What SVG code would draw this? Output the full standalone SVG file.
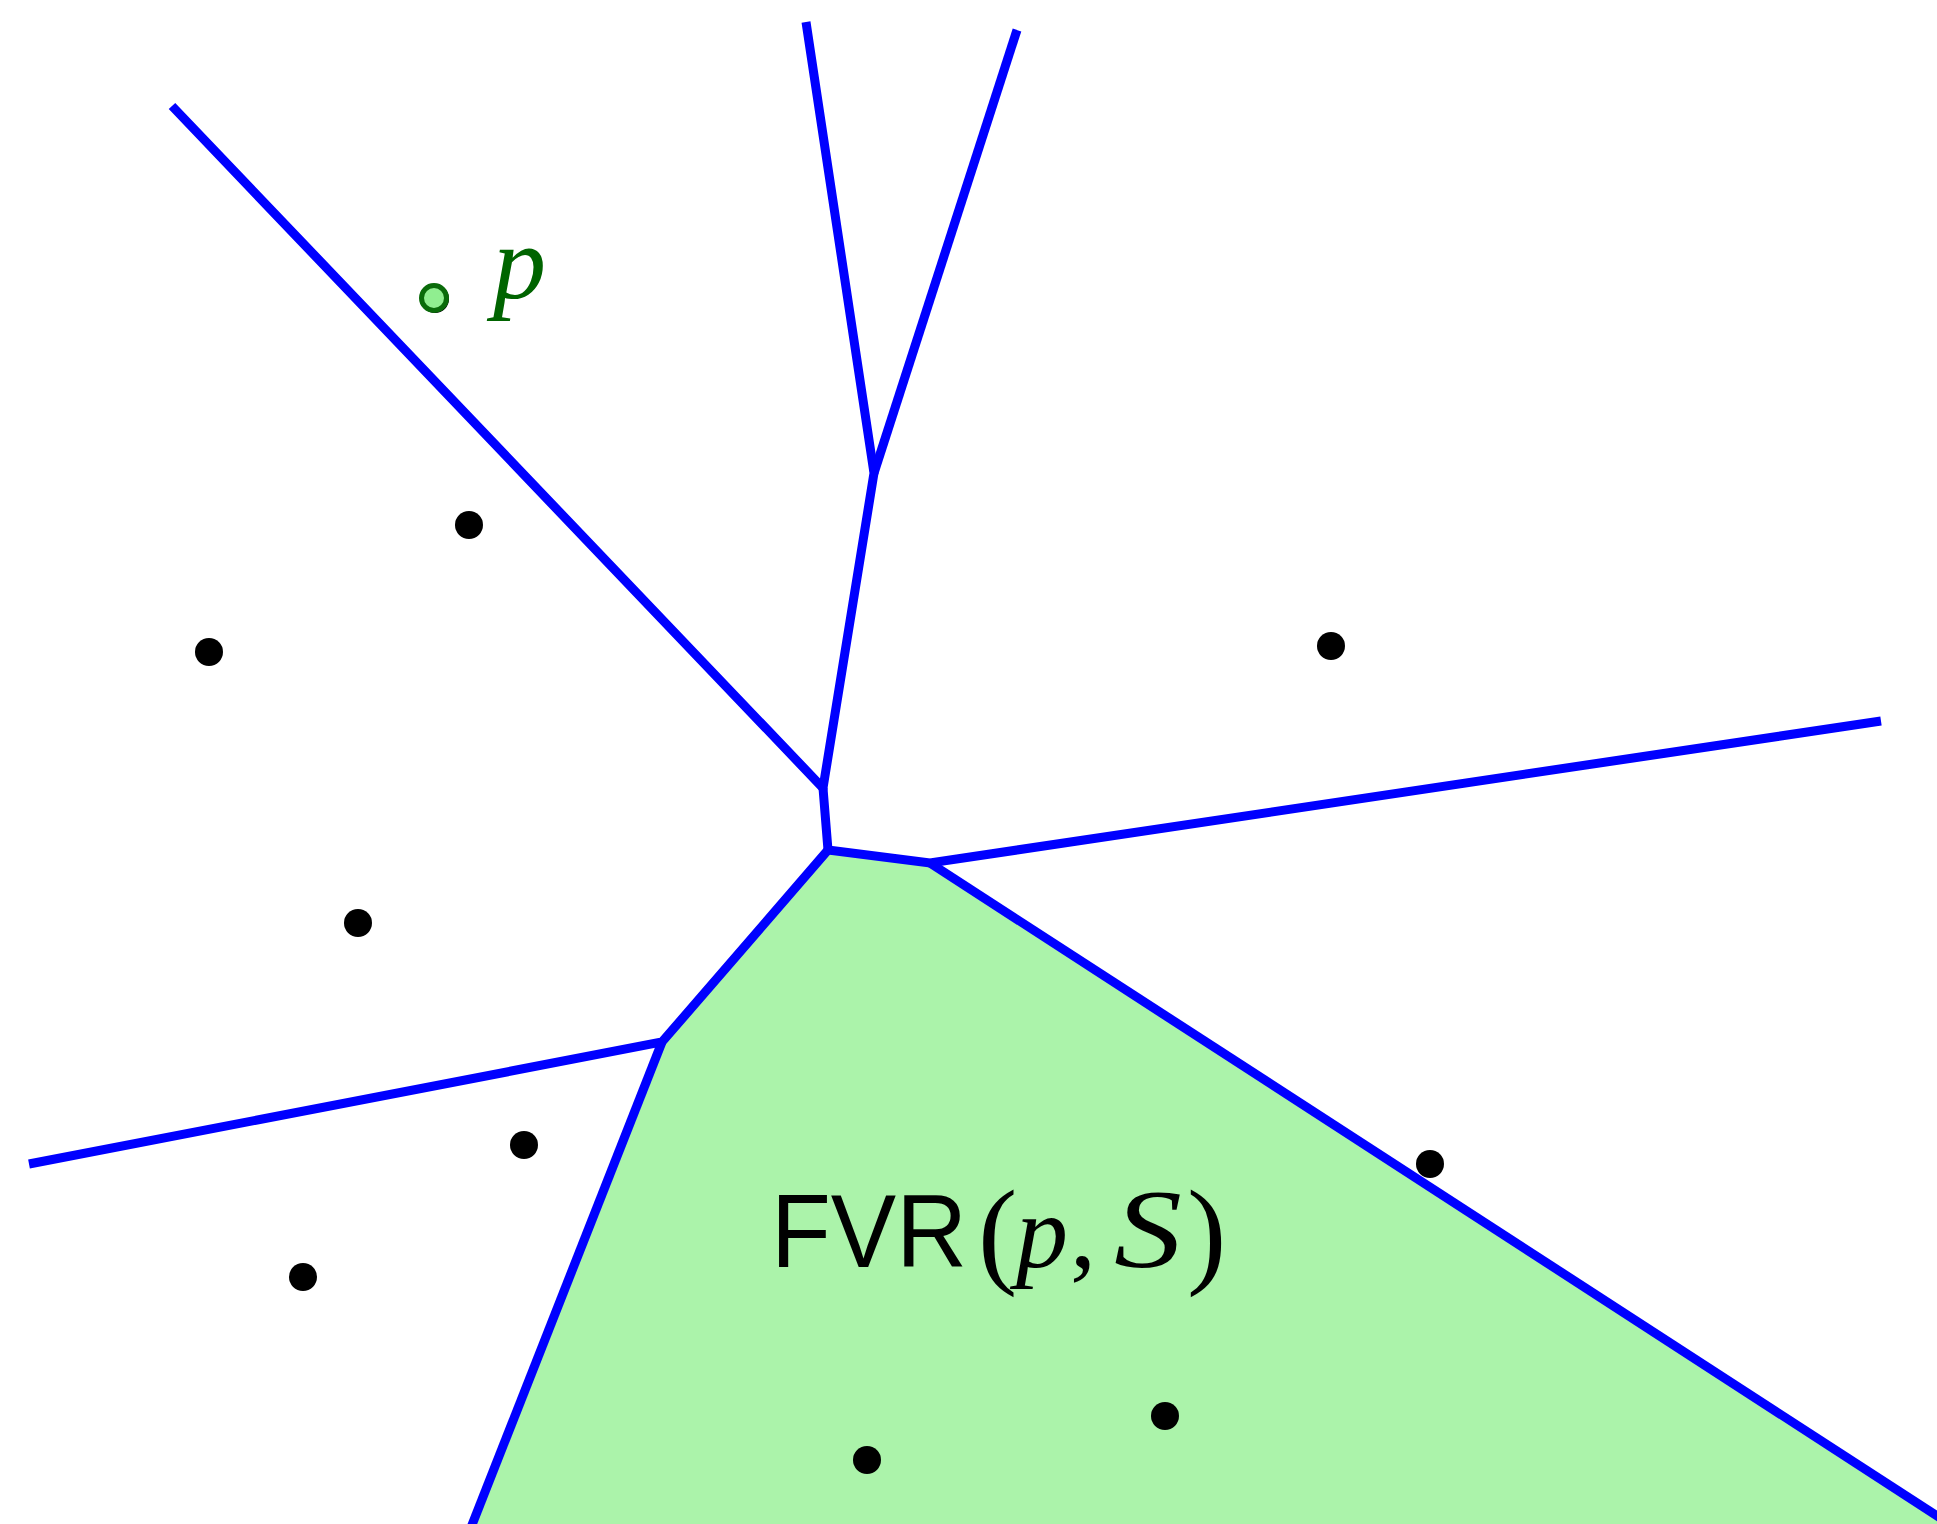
<svg xmlns="http://www.w3.org/2000/svg" width="1937" height="1524" viewBox="0 0 1937 1524">
<style>
.edge{stroke:#0000ff;stroke-width:9;fill:none;stroke-linejoin:miter}
.site{fill:#000}
.sans{font-family:"Liberation Sans","DejaVu Sans",sans-serif}
.math{font-family:"Liberation Serif","DejaVu Serif",serif;font-style:italic}
.rm{font-family:"Liberation Serif","DejaVu Serif",serif}
</style>
<rect width="1937" height="1524" fill="#fff"/>
<g id="region">
<polygon points="828,850 930,863 1937,1516 1937,1524 473,1524 662,1042" fill="#abf3aa"/>
</g>
<g id="connectors">
<polyline class="edge" points="172,106 823,788 874,473 806,22"/>
<line class="edge" x1="874" y1="473" x2="1017" y2="30"/>
<polyline class="edge" points="823,788 828,850 930,863 1881,721"/>
<line class="edge" x1="930" y1="863" x2="1945" y2="1521"/>
<polyline class="edge" points="828,850 662,1042 29,1164"/>
<line class="edge" x1="662" y1="1042" x2="470" y2="1530"/>
</g>
<g id="sites">
<circle class="site" cx="469" cy="525" r="14"/>
<circle class="site" cx="209" cy="652" r="14"/>
<circle class="site" cx="358" cy="923" r="14"/>
<circle class="site" cx="524" cy="1145" r="14"/>
<circle class="site" cx="303" cy="1277" r="14"/>
<circle class="site" cx="1331" cy="646" r="14"/>
<circle class="site" cx="1430" cy="1164" r="14"/>
<circle class="site" cx="1165" cy="1416" r="14"/>
<circle class="site" cx="867" cy="1460" r="14"/>
</g>
<g id="p-point">
<circle cx="435" cy="299" r="14" fill="#000"/>
<circle cx="434" cy="298" r="12.5" fill="#90ee90" stroke="#0a6b0a" stroke-width="5"/>
<text class="math" x="493" y="298" font-size="106" fill="#006400">p</text>
</g>
<g id="label">
<text class="sans" x="771" y="1267" font-size="104" fill="#000" textLength="196" lengthAdjust="spacingAndGlyphs">FVR</text>
<text class="rm" x="978" y="1272" font-size="118" fill="#000">(</text>
<text class="math" x="1016" y="1267" font-size="104" fill="#000">p</text>
<text class="rm" x="1070" y="1267" font-size="104" fill="#000">,</text>
<text class="math" x="1114" y="1267" font-size="112" fill="#000" textLength="68" lengthAdjust="spacingAndGlyphs">S</text>
<text class="rm" x="1187" y="1272" font-size="118" fill="#000">)</text>
</g>
</svg>
